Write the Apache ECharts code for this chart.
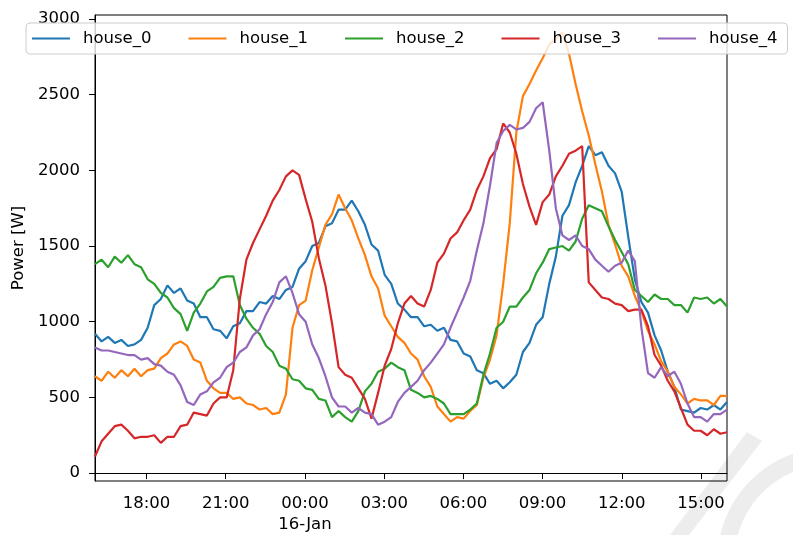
<!DOCTYPE html>
<html>
<head>
<meta charset="utf-8">
<script src="https://cdn.jsdelivr.net/npm/echarts@6/dist/echarts.min.js"></script>
<style>
  html, body { margin: 0; padding: 0; background: #fff; }
  #lineChart { width: 793px; height: 535px; }
</style>
</head>
<body>
<div id="lineChart"></div>
<script>
// 数据：15-Jan 16:03 到 16-Jan 15:59，每点约15分钟
var startTime = Date.UTC(2019, 0, 15, 16, 3);
var endTime = Date.UTC(2019, 0, 16, 15, 59);

var seriesNames = ['house_0', 'house_1', 'house_2', 'house_3', 'house_4'];

var house0 = [920, 870, 900, 860, 880, 840, 850, 880, 960, 1110, 1150, 1240, 1190, 1220, 1140, 1120,
    1030, 1030, 950, 940, 890, 970, 990, 1070, 1070, 1130, 1120, 1170, 1150, 1210, 1230, 1350,
    1400, 1500, 1520, 1630, 1650, 1740, 1740, 1800, 1730, 1640, 1510, 1470, 1310, 1250, 1120, 1080,
    1030, 1030, 970, 980, 940, 960, 880, 870, 790, 770, 680, 660, 590, 610, 560, 600,
    650, 800, 860, 980, 1030, 1250, 1430, 1700, 1770, 1920, 2030, 2160, 2100, 2120, 2030, 1980,
    1860, 1560, 1280, 1130, 1060, 910, 810, 670, 570, 420, 410, 400, 430, 420, 450, 420, 470];

var house1 = [640, 610, 670, 630, 680, 640, 690, 640, 680, 690, 760, 790, 850, 870, 840, 750,
    730, 610, 560, 530, 530, 490, 500, 460, 450, 420, 430, 390, 400, 520, 960, 1110,
    1140, 1340, 1490, 1640, 1710, 1840, 1750, 1670, 1550, 1440, 1300, 1220, 1040, 970, 900, 860,
    790, 750, 640, 570, 440, 390, 340, 370, 360, 410, 450, 630, 750, 910, 1250, 1650,
    2250, 2490, 2570, 2660, 2740, 2830, 2870, 2910, 2770, 2570, 2390, 2230, 2040, 1860, 1640, 1510,
    1370, 1300, 1170, 1070, 940, 850, 740, 670, 570, 520, 460, 490, 480, 480, 450, 510, 510];

var house2 = [1380, 1410, 1360, 1430, 1390, 1440, 1380, 1360, 1280, 1250, 1190, 1160, 1090, 1050, 940, 1060,
    1120, 1200, 1230, 1290, 1300, 1300, 1110, 1020, 960, 920, 840, 800, 710, 690, 620, 610,
    560, 550, 490, 480, 370, 410, 370, 340, 410, 540, 590, 670, 690, 730, 700, 680,
    550, 530, 500, 510, 490, 460, 390, 390, 390, 420, 460, 650, 790, 960, 1000, 1100,
    1100, 1160, 1210, 1320, 1390, 1480, 1490, 1500, 1470, 1530, 1680, 1770, 1750, 1730, 1630, 1540,
    1460, 1380, 1210, 1170, 1130, 1180, 1150, 1150, 1110, 1110, 1060, 1160, 1150, 1160, 1120, 1150, 1100];

var house3 = [110, 210, 260, 310, 320, 280, 230, 240, 240, 250, 200, 240, 240, 310, 320, 400,
    390, 380, 460, 500, 500, 680, 1150, 1410, 1520, 1610, 1700, 1800, 1870, 1960, 2000, 1970,
    1810, 1660, 1420, 1240, 990, 700, 650, 630, 560, 490, 360, 530, 710, 820, 990, 1120,
    1170, 1120, 1100, 1210, 1390, 1450, 1550, 1590, 1670, 1740, 1870, 1960, 2080, 2140, 2310, 2250,
    2110, 1910, 1760, 1640, 1790, 1840, 1960, 2030, 2110, 2130, 2160, 1260, 1210, 1160, 1150, 1120,
    1110, 1070, 1080, 1080, 970, 780, 710, 610, 540, 430, 320, 280, 280, 250, 290, 260, 270];

var house4 = [830, 810, 810, 800, 790, 780, 780, 750, 760, 720, 710, 670, 650, 580, 470, 450,
    520, 540, 600, 630, 700, 730, 800, 830, 910, 950, 1050, 1130, 1260, 1300, 1190, 1050,
    1000, 850, 760, 640, 500, 440, 440, 400, 430, 400, 390, 320, 340, 370, 470, 530,
    570, 610, 680, 730, 790, 850, 960, 1060, 1160, 1270, 1470, 1650, 1900, 2180, 2260, 2300,
    2270, 2280, 2320, 2410, 2450, 2130, 1750, 1570, 1540, 1570, 1500, 1480, 1410, 1370, 1330, 1370,
    1390, 1470, 1400, 960, 660, 630, 700, 640, 670, 590, 460, 370, 370, 340, 390, 390, 420];

// x 轴刻度（距 15-Jan 00:00 的小时数）和标签
var tickHours = [18, 21, 24, 27, 30, 33, 36, 39];
var tickLabels = ['18:00', '21:00', '00:00\n16-Jan', '03:00', '06:00', '09:00', '12:00', '15:00'];
var yTicks = [0, 500, 1000, 1500, 2000, 2500, 3000];

var colors = ['#1f77b4', '#ff7f0e', '#2ca02c', '#d62728', '#9467bd'];

(function () {
    var dom = document.getElementById("lineChart");
    var myChart = echarts.init(dom, null, { renderer: 'canvas' });

    var allData = [house0, house1, house2, house3, house4];
    var step = (endTime - startTime) / (house0.length - 1);
    var dayStart = Date.UTC(2019, 0, 15, 0, 0);
    var tickTimes = tickHours.map(function (h) { return dayStart + h * 3600000; });

    var series = allData.map(function (vals, k) {
        return {
            name: seriesNames[k],
            type: 'line',
            symbol: 'none',
            data: vals.map(function (v, i) { return [startTime + i * step, v]; }),
            lineStyle: { color: colors[k], width: 2.2 },
            itemStyle: { color: colors[k] },
            z: 2 + k
        };
    });

    var font = 'DejaVu Sans';

    var option = {
        animation: false,
        color: colors,
        grid: {
            left: 95,
            right: 66,
            top: 15,
            bottom: 51,
            show: true,
            borderColor: '#000',
            borderWidth: 1,
            containLabel: false
        },
        legend: {
            data: seriesNames,
            left: 26,
            top: 23,
            z: 20,
            icon: 'rect',
            itemWidth: 38,
            itemHeight: 2,
            itemGap: 37,
            padding: [6, 10, 6, 6],
            backgroundColor: 'rgba(255,255,255,0.8)',
            borderColor: '#cccccc',
            borderWidth: 1,
            borderRadius: 4,
            textStyle: {
                color: '#000',
                fontFamily: font,
                fontSize: 16.5,
                lineHeight: 19,
                padding: [0, 0, 0, 8]
            }
        },
        xAxis: {
            type: 'value',
            min: startTime,
            max: endTime,
            axisLine: { show: true, lineStyle: { color: '#000', width: 1 } },
            axisTick: {
                show: true,
                length: 6,
                customValues: tickTimes,
                lineStyle: { color: '#000' }
            },
            axisLabel: {
                customValues: tickTimes,
                color: '#000',
                fontFamily: font,
                fontSize: 16.5,
                lineHeight: 21,
                margin: 12,
                formatter: function (value) {
                    var idx = tickTimes.indexOf(value);
                    return idx >= 0 ? tickLabels[idx] : '';
                }
            },
            splitLine: { show: false }
        },
        yAxis: {
            type: 'value',
            min: -52,
            max: 3026,
            name: 'Power [W]',
            nameLocation: 'middle',
            nameRotate: 90,
            nameGap: 65,
            nameTextStyle: { color: '#000', fontFamily: font, fontSize: 16.5 },
            axisLine: { show: true, lineStyle: { color: '#000', width: 1 } },
            axisTick: {
                show: true,
                length: 6,
                customValues: yTicks,
                lineStyle: { color: '#000' }
            },
            axisLabel: {
                customValues: yTicks,
                color: '#000',
                fontFamily: font,
                fontSize: 16.5,
                margin: 15,
                formatter: function (value) { return String(value); }
            },
            splitLine: { show: false }
        },
        // 右下角的浅灰色水印
        graphic: [
            {
                type: 'polygon',
                z: 0,
                shape: { points: [[670, 535], [689, 535], [762, 441], [747, 432]] },
                style: { fill: 'rgba(0,0,0,0.07)' },
                silent: true
            },
            {
                type: 'arc',
                z: 0,
                shape: { cx: 830, cy: 560, r: 104, startAngle: Math.PI * 1.05, endAngle: Math.PI * 1.6 },
                style: { stroke: 'rgba(0,0,0,0.07)', lineWidth: 17, fill: null },
                silent: true
            }
        ],
        series: series
    };

    if (option && typeof option === 'object') {
        myChart.setOption(option);
    }

    window.addEventListener("resize", function () {
        myChart.resize();
    });
})();
</script>
</body>
</html>
